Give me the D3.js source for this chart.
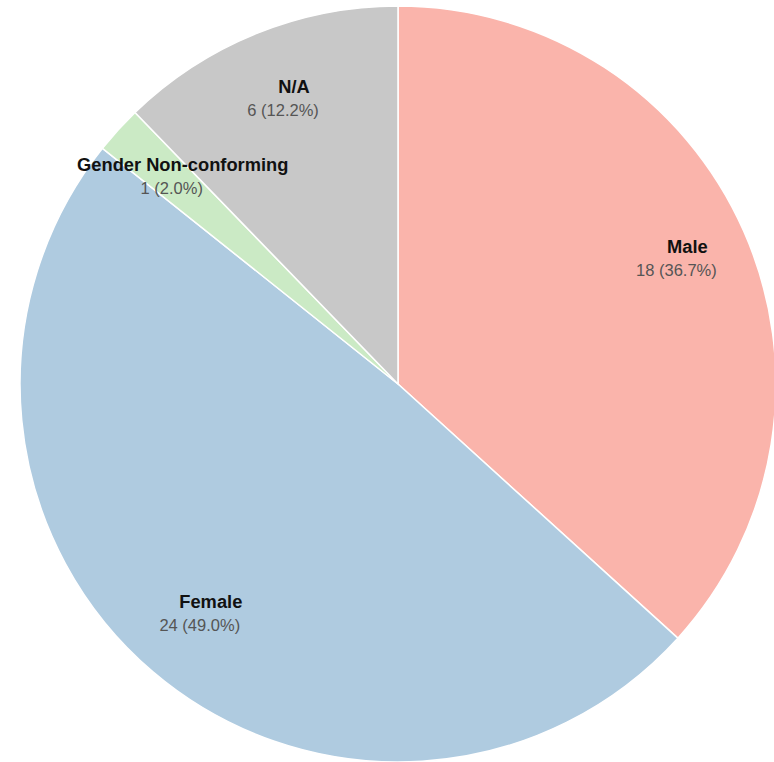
<!DOCTYPE html>
<html>
<head>
<meta charset="utf-8">
<script src="https://cdn.jsdelivr.net/npm/d3@7"></script>
<style>
  html, body { margin: 0; padding: 0; background: #fff; }
  svg { display: block; }
</style>
</head>
<body>
<svg id="chart" width="774" height="762"></svg>
<script>
// Gender breakdown of respondents
const categories = ["Male", "Female", "Gender Non-conforming", "N/A"];
const counts = [18, 24, 1, 6];
const colors = ["#fab4ab", "#afcbe0", "#cbeac5", "#c8c8c8"];

const width = 774, height = 762;
const cx = 398, cy = 384, radius = 378;
const labelRadius = 305;

const data = categories.map((name, i) => ({ name, value: counts[i], color: colors[i] }));
const total = d3.sum(counts);

const svg = d3.select("#chart");
const g = svg.append("g").attr("transform", `translate(${cx},${cy})`);

const pie = d3.pie().value(d => d.value).sort(null);
const arc = d3.arc().innerRadius(0).outerRadius(radius);
const labelArc = d3.arc().innerRadius(labelRadius).outerRadius(labelRadius);

const arcs = pie(data);

g.selectAll("path.slice")
  .data(arcs)
  .join("path")
  .attr("class", "slice")
  .attr("d", arc)
  .attr("fill", d => d.data.color)
  .attr("stroke", "#ffffff")
  .attr("stroke-width", 1.5);

const labels = g.selectAll("g.label")
  .data(arcs)
  .join("g")
  .attr("class", "label")
  .attr("transform", d => `translate(${labelArc.centroid(d)})`);

labels.append("text")
  .attr("x", 10.5)
  .attr("y", -8)
  .attr("text-anchor", "middle")
  .attr("font-family", "'Liberation Sans', Arial, sans-serif")
  .attr("font-size", 18.3)
  .attr("font-weight", "bold")
  .attr("fill", "#111")
  .text(d => d.data.name);

const fmt = d3.format(".1f");
labels.append("text")
  .attr("x", -0.5)
  .attr("y", 15)
  .attr("text-anchor", "middle")
  .attr("font-family", "'Liberation Sans', Arial, sans-serif")
  .attr("font-size", 16.5)
  .attr("fill", "#555")
  .text(d => `${d.data.value} (${fmt(d.data.value / total * 100)}%)`);
</script>
</body>
</html>
